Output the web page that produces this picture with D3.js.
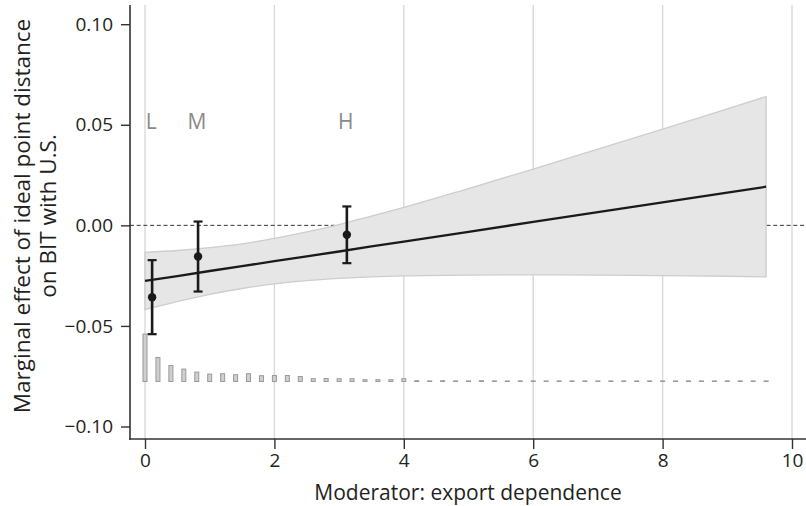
<!DOCTYPE html>
<html>
<head>
<meta charset="utf-8">
<script src="https://cdn.jsdelivr.net/npm/d3@7/dist/d3.min.js"></script>
<style>
  html, body { margin: 0; padding: 0; background: #fff; }
  svg { display: block; }
  text { font-family: "Open Sans", "Noto Sans", sans-serif; fill: #231f20; }
</style>
</head>
<body>
<svg id="chart" width="806" height="506"></svg>
<script>
// Predicted marginal effect (linear interaction model) and 95% band
const bandX     = [0, 0.5, 1, 1.5, 2, 2.5, 3, 3.5, 4, 5, 6, 7, 8, 9, 9.6];
const estimate  = [-0.0276, -0.0252, -0.0227, -0.0203, -0.0178, -0.0154, -0.0130, -0.0105, -0.0081, -0.0032, 0.0017, 0.0066, 0.0114, 0.0163, 0.0192];
const bandLower = [-0.0418, -0.0379, -0.0343, -0.0314, -0.0291, -0.0275, -0.0264, -0.0256, -0.0251, -0.0247, -0.0246, -0.0247, -0.0250, -0.0253, -0.0256];
const bandUpper = [-0.0134, -0.0125, -0.0111, -0.0092, -0.0065, -0.0033, 0.0004, 0.0046, 0.0089, 0.0183, 0.0280, 0.0379, 0.0478, 0.0579, 0.0640];

// Binned (tercile) estimates: low, medium, high export dependence
const binLabels = ["L", "M", "H"];
const binX      = [0.11, 0.82, 3.12];
const binEst    = [-0.0357, -0.0155, -0.0047];
const binLo     = [-0.0541, -0.0329, -0.0188];
const binHi     = [-0.0173, 0.0019, 0.0094];

// Distribution of the moderator (share of observations, %)
const histX = [0, 0.2, 0.4, 0.6, 0.8, 1.0, 1.2, 1.4, 1.6, 1.8, 2.0, 2.2, 2.4, 2.6, 2.8, 3.0, 3.2, 3.4, 3.6, 3.8,
               4.0, 4.2, 4.4, 4.6, 4.8, 5.0, 5.2, 5.4, 5.6, 5.8, 6.0, 6.2, 6.4, 6.6, 6.8, 7.0, 7.2, 7.4, 7.6, 7.8,
               8.0, 8.2, 8.4, 8.6, 8.8, 9.0, 9.2, 9.4, 9.6];
const histShare = [23.7, 12.0, 8.0, 6.2, 4.7, 3.7, 3.9, 3.4, 3.9, 2.9, 3.0, 3.0, 2.5, 1.4, 1.5, 1.4, 1.4, 0.9, 0.9, 0.9,
                   1.4, 0.4, 0.3, 0.4, 0.3, 0.3, 0.4, 0.3, 0.3, 0.3, 0.3, 0.3, 0.3, 0.3, 0.3, 0.3, 0.3, 0.3, 0.3, 0.3,
                   0.3, 0.3, 0.3, 0.3, 0.3, 0.3, 0.3, 0.3, 0.3];

const xTicks = [0, 2, 4, 6, 8, 10];
const yTicks = [-0.10, -0.05, 0.00, 0.05, 0.10];

const svg = d3.select("#chart");

// Frame of the plotting region
const frame = { left: 130, right: 806, top: 5, bottom: 439 };

const x = d3.scaleLinear().domain([0, 10]).range([145, 792]);
const y = d3.scaleLinear().domain([-0.10, 0.10]).range([426.5, 24.2]);
const histBase = 381.5;
const hScale = d3.scaleLinear().domain([0, 24]).range([0, 48]);

const fmt = d => (d < 0 ? "\u2212" : "") + Math.abs(d).toFixed(2);

// Vertical gridlines
svg.append("g")
  .selectAll("line")
  .data(xTicks)
  .join("line")
  .attr("x1", d => x(d)).attr("x2", d => x(d))
  .attr("y1", frame.top).attr("y2", frame.bottom)
  .attr("stroke", "#d9d9d9")
  .attr("stroke-width", 1.4);

// Reference line at zero
svg.append("line")
  .attr("x1", frame.left).attr("x2", frame.right)
  .attr("y1", y(0)).attr("y2", y(0))
  .attr("stroke", "#333")
  .attr("stroke-width", 1)
  .attr("stroke-dasharray", "4,2.7");

// Confidence band
const bandData = bandX.map((d, i) => ({ x: d, lo: bandLower[i], hi: bandUpper[i], est: estimate[i] }));
svg.append("path")
  .datum(bandData)
  .attr("d", d3.area()
    .x(d => x(d.x))
    .y0(d => y(d.lo))
    .y1(d => y(d.hi))
    .curve(d3.curveMonotoneX))
  .attr("fill", "#e6e6e6")
  .attr("stroke", "#cdcdcd")
  .attr("stroke-width", 1.3);

// Histogram of the moderator
svg.append("g")
  .selectAll("rect")
  .data(histX.map((d, i) => ({ x: d, v: histShare[i] })))
  .join("rect")
  .attr("x", d => x(d.x) - 2)
  .attr("width", 4)
  .attr("y", d => histBase - hScale(d.v))
  .attr("height", d => hScale(d.v))
  .attr("fill", "#cfcfcf")
  .attr("stroke", "#9a9a9a")
  .attr("stroke-width", 1);

// Linear marginal effect
svg.append("path")
  .datum(bandData)
  .attr("d", d3.line().x(d => x(d.x)).y(d => y(d.est)))
  .attr("fill", "none")
  .attr("stroke", "#1a1a1a")
  .attr("stroke-width", 2.3);

// Binned estimates with 95% intervals
const bins = binX.map((d, i) => ({ lab: binLabels[i], x: d, est: binEst[i], lo: binLo[i], hi: binHi[i] }));
const gBins = svg.append("g");
const capW = 4.5;
gBins.selectAll(".stem").data(bins).join("line")
  .attr("x1", d => x(d.x)).attr("x2", d => x(d.x))
  .attr("y1", d => y(d.lo)).attr("y2", d => y(d.hi))
  .attr("stroke", "#1a1a1a").attr("stroke-width", 2.6);
gBins.selectAll(".capTop").data(bins).join("line")
  .attr("x1", d => x(d.x) - capW).attr("x2", d => x(d.x) + capW)
  .attr("y1", d => y(d.hi)).attr("y2", d => y(d.hi))
  .attr("stroke", "#1a1a1a").attr("stroke-width", 2.2);
gBins.selectAll(".capBot").data(bins).join("line")
  .attr("x1", d => x(d.x) - capW).attr("x2", d => x(d.x) + capW)
  .attr("y1", d => y(d.lo)).attr("y2", d => y(d.lo))
  .attr("stroke", "#1a1a1a").attr("stroke-width", 2.2);
gBins.selectAll("circle").data(bins).join("circle")
  .attr("cx", d => x(d.x)).attr("cy", d => y(d.est))
  .attr("r", 4.2)
  .attr("fill", "#1a1a1a");

// Bin labels
svg.append("g")
  .selectAll("text")
  .data(bins)
  .join("text")
  .attr("x", d => x(d.x) - 1)
  .attr("y", 129)
  .attr("text-anchor", "middle")
  .style("font-size", "21px")
  .style("fill", "#8a8a8a")
  .text(d => d.lab);

// Axes
const xAxis = svg.append("g")
  .attr("transform", `translate(0,${frame.bottom})`)
  .call(d3.axisBottom(x).tickValues(xTicks).tickFormat(d3.format("d")).tickSize(10).tickPadding(5));
xAxis.select(".domain").remove();
xAxis.selectAll(".tick line").attr("stroke", "#333").attr("stroke-width", 1.4);
xAxis.selectAll(".tick text").style("font-size", "19px").style("font-family", "'Open Sans', sans-serif").attr("fill", "#231f20");

const yAxis = svg.append("g")
  .attr("transform", `translate(${frame.left},0)`)
  .call(d3.axisLeft(y).tickValues(yTicks).tickFormat(fmt).tickSize(9).tickPadding(8));
yAxis.select(".domain").remove();
yAxis.selectAll(".tick line").attr("stroke", "#333").attr("stroke-width", 1.4);
yAxis.selectAll(".tick text").style("font-size", "19px").style("font-family", "'Open Sans', sans-serif").attr("fill", "#231f20");

// Axis lines
svg.append("line")
  .attr("x1", frame.left).attr("x2", frame.left)
  .attr("y1", frame.top).attr("y2", frame.bottom + 0.8)
  .attr("stroke", "#333").attr("stroke-width", 1.6);
svg.append("line")
  .attr("x1", frame.left - 0.8).attr("x2", frame.right)
  .attr("y1", frame.bottom).attr("y2", frame.bottom)
  .attr("stroke", "#333").attr("stroke-width", 1.6);

// Axis titles
svg.append("text")
  .attr("x", (frame.left + frame.right) / 2)
  .attr("y", 500)
  .attr("text-anchor", "middle")
  .style("font-size", "21px")
  .text("Moderator: export dependence");

const yTitle = svg.append("text")
  .attr("transform", `translate(0,${(frame.top + frame.bottom) / 2 - 6}) rotate(-90)`)
  .attr("text-anchor", "middle")
  .style("font-size", "22.5px");
yTitle.append("tspan").attr("x", 0).attr("y", 30).text("Marginal effect of ideal point distance");
yTitle.append("tspan").attr("x", 0).attr("y", 56).text("on BIT with U.S.");
</script>
</body>
</html>
